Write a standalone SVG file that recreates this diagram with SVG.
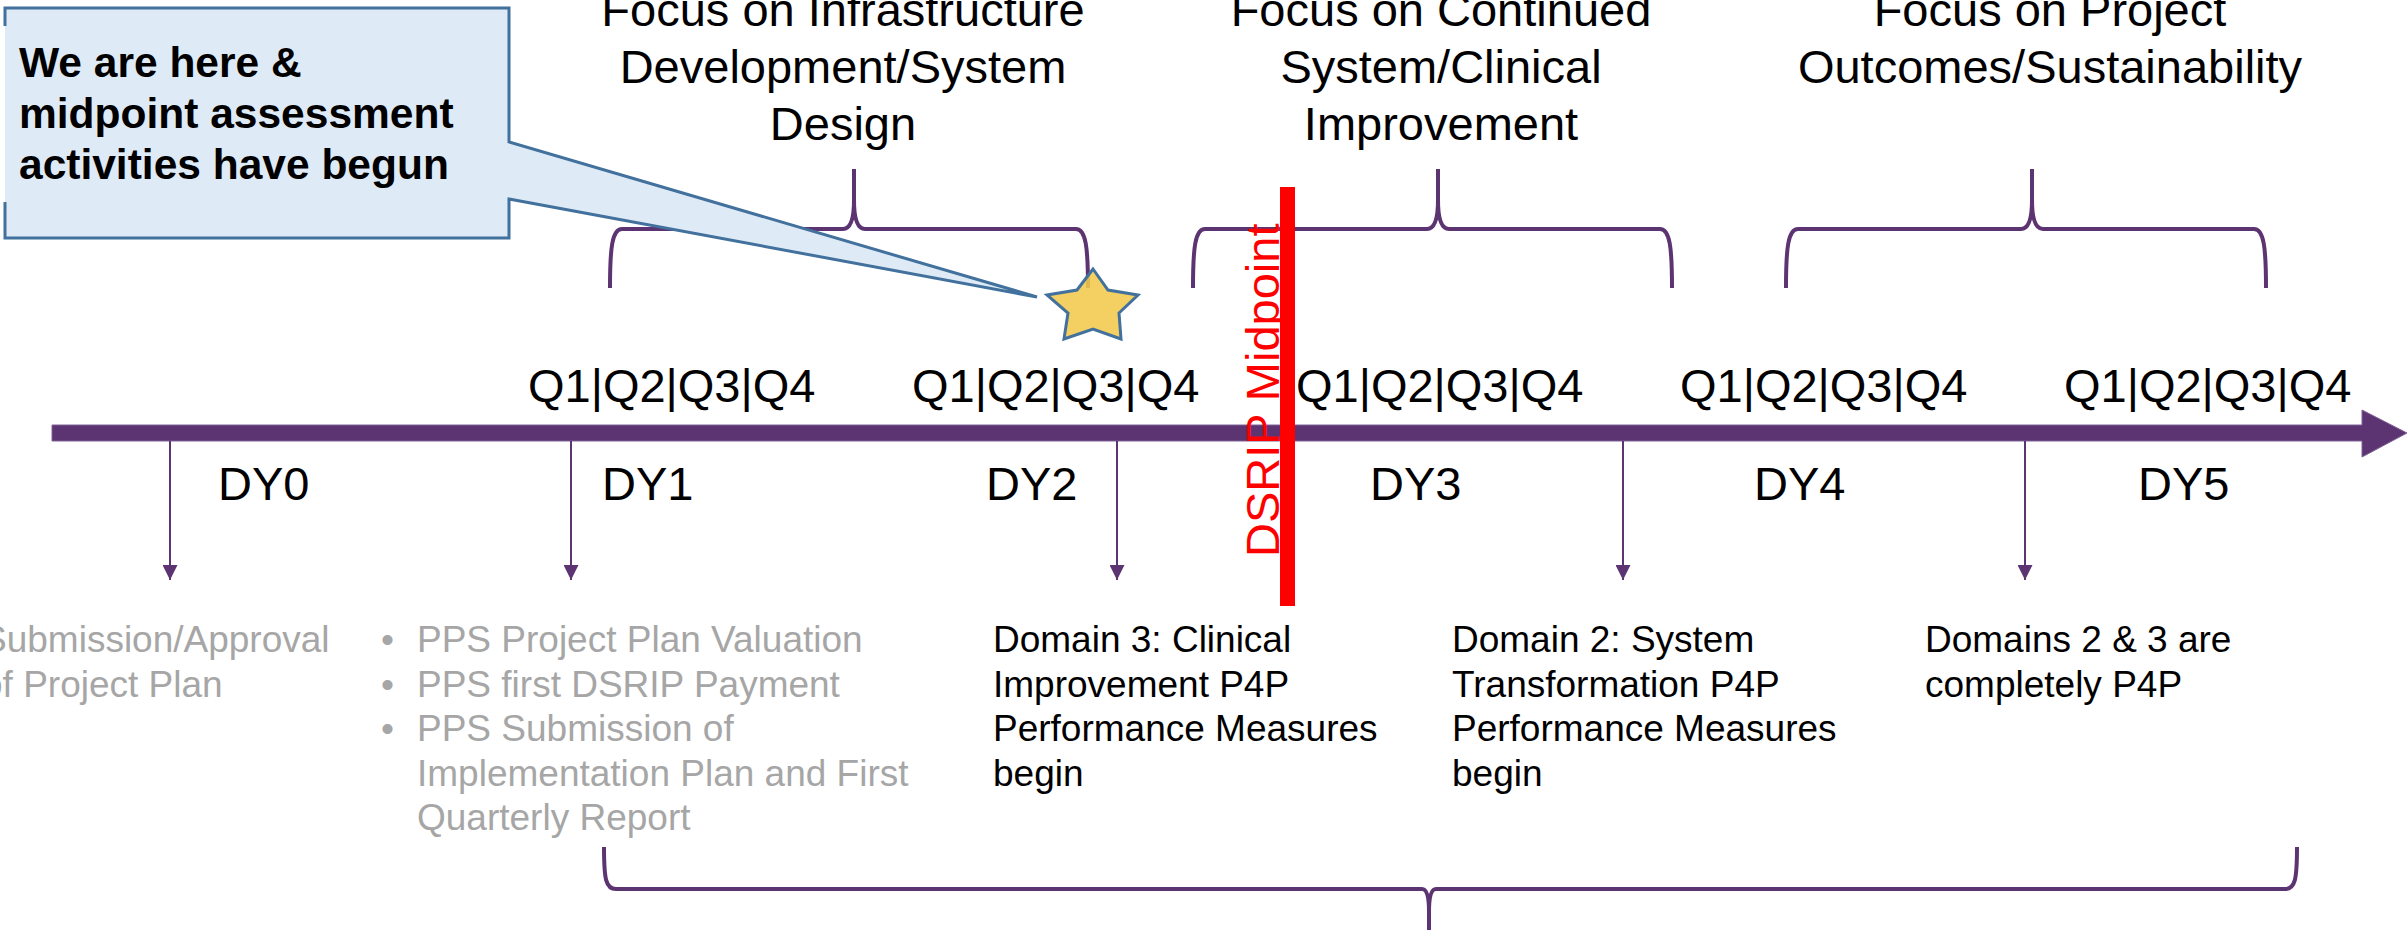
<svg xmlns="http://www.w3.org/2000/svg" width="2407" height="930" viewBox="0 0 2407 930">
<style>
.t{font-family:"Liberation Sans",Arial,sans-serif;fill:#000}
.h{font-size:47px;text-anchor:middle}
.q{font-size:47px}
.s{font-size:37px}
.g{fill:#A6A6A6}
.brace{fill:none;stroke:#5C3471;stroke-width:4;stroke-linecap:butt}
.tick{stroke:#5C3471;stroke-width:2;marker-end:url(#ah)}
</style>
<defs>
<marker id="ah" viewBox="0 0 15 15" refX="15" refY="7.5" markerWidth="15" markerHeight="15" markerUnits="userSpaceOnUse" orient="auto">
<path d="M0,0 L15,7.5 L0,15 Z" fill="#5C3471"/>
</marker>
</defs>
<rect width="2407" height="930" fill="#fff"/>

<g id="headers">
<text class="t h" x="843" y="26">Focus on Infrastructure</text>
<text class="t h" x="843" y="83">Development/System</text>
<text class="t h" x="843" y="140">Design</text>
<text class="t h" x="1441" y="26">Focus on Continued</text>
<text class="t h" x="1441" y="83">System/Clinical</text>
<text class="t h" x="1441" y="140">Improvement</text>
<text class="t h" x="2050" y="26">Focus on Project</text>
<text class="t h" x="2050" y="83">Outcomes/Sustainability</text>
</g>

<g id="braces">
<path class="brace" d="M610,288 C610,248 612,229 622,229 H843 C850,229 854,220 854,200 V169 M854,200 C854,220 858,229 865,229 H1076 C1086,229 1088,248 1088,288"/>
<path class="brace" d="M1193,288 C1193,248 1195,229 1205,229 H1427 C1434,229 1438,220 1438,200 V169 M1438,200 C1438,220 1442,229 1449,229 H1660 C1670,229 1672,248 1672,288"/>
<path class="brace" d="M1786,288 C1786,248 1788,229 1798,229 H2021 C2028,229 2032,220 2032,200 V169 M2032,200 C2032,220 2036,229 2043,229 H2254 C2264,229 2266,248 2266,288"/>
<path class="brace" d="M604,847 C604,880 606,889 616,889 H1422 C1427,889 1429,897 1429,912 V935 M1429,912 C1429,897 1431,889 1436,889 H2285 C2295,889 2297,880 2297,847"/>
</g>

<g id="timeline">
<path d="M52,425 H2362 V410 L2407,433 L2362,457 V441 H52 Z" fill="#5C3471" stroke="#7E6196" stroke-width="1"/>
</g>

<g id="connectors">
<line class="tick" x1="170" y1="441" x2="170" y2="580"/>
<line class="tick" x1="571" y1="441" x2="571" y2="580"/>
<line class="tick" x1="1117" y1="441" x2="1117" y2="580"/>
<line class="tick" x1="1623" y1="441" x2="1623" y2="580"/>
<line class="tick" x1="2025" y1="441" x2="2025" y2="580"/>
</g>

<g id="quarters">
<text class="t q" x="528" y="402">Q1|Q2|Q3|Q4</text>
<text class="t q" x="912" y="402">Q1|Q2|Q3|Q4</text>
<text class="t q" x="1296" y="402">Q1|Q2|Q3|Q4</text>
<text class="t q" x="1680" y="402">Q1|Q2|Q3|Q4</text>
<text class="t q" x="2064" y="402">Q1|Q2|Q3|Q4</text>
</g>

<g id="years">
<text class="t q" x="218" y="500">DY0</text>
<text class="t q" x="602" y="500">DY1</text>
<text class="t q" x="986" y="500">DY2</text>
<text class="t q" x="1370" y="500">DY3</text>
<text class="t q" x="1754" y="500">DY4</text>
<text class="t q" x="2138" y="500">DY5</text>
</g>

<g id="midpoint">
<rect x="1280" y="187" width="15" height="419" fill="#FF0000"/>
<text class="t" transform="translate(1279,557) rotate(-90)" x="0" y="0" font-size="47" style="fill:#FF0000">DSRIP Midpoint</text>
</g>

<g id="dy0-note">
<text class="t s g" x="-18" y="652">Submission/Approval</text>
<text class="t s g" x="-18" y="697">of Project Plan</text>
</g>

<g id="dy1-note">
<text class="t s g" x="381" y="652">•</text>
<text class="t s g" x="381" y="697">•</text>
<text class="t s g" x="381" y="741">•</text>
<text class="t s g" x="417" y="652">PPS Project Plan Valuation</text>
<text class="t s g" x="417" y="697">PPS first DSRIP Payment</text>
<text class="t s g" x="417" y="741">PPS Submission of</text>
<text class="t s g" x="417" y="786">Implementation Plan and First</text>
<text class="t s g" x="417" y="830">Quarterly Report</text>
</g>

<g id="dy2-note">
<text class="t s" x="993" y="652">Domain 3: Clinical</text>
<text class="t s" x="993" y="697">Improvement P4P</text>
<text class="t s" x="993" y="741">Performance Measures</text>
<text class="t s" x="993" y="786">begin</text>
</g>

<g id="dy3-note">
<text class="t s" x="1452" y="652">Domain 2: System</text>
<text class="t s" x="1452" y="697">Transformation P4P</text>
<text class="t s" x="1452" y="741">Performance Measures</text>
<text class="t s" x="1452" y="786">begin</text>
</g>

<g id="dy4-note">
<text class="t s" x="1925" y="652">Domains 2 &amp; 3 are</text>
<text class="t s" x="1925" y="697">completely P4P</text>
</g>

<g id="callout">
<path d="M5,8 H509 V142 L1037,297 L509,199 V238 H5 Z" fill="#DEEAF6"/>
<path d="M5,26 V8 H509 V142 L1037,297 L509,199 V238 H5 V202" fill="none" stroke="#41719C" stroke-width="3"/>
<text class="t" font-size="42.5" font-weight="bold" x="19" y="77">We are here &amp;</text>
<text class="t" font-size="42.5" font-weight="bold" x="19" y="128">midpoint assessment</text>
<text class="t" font-size="42.5" font-weight="bold" x="19" y="179">activities have begun</text>
</g>

<g id="star">
<polygon points="1093,269 1108,290 1138,295 1119,313 1121,339 1093,329 1064,339 1068,313 1047,295 1077,290" fill="#F2C94C" fill-opacity="0.88" stroke="#41719C" stroke-width="3" stroke-linejoin="miter"/>
</g>
</svg>
